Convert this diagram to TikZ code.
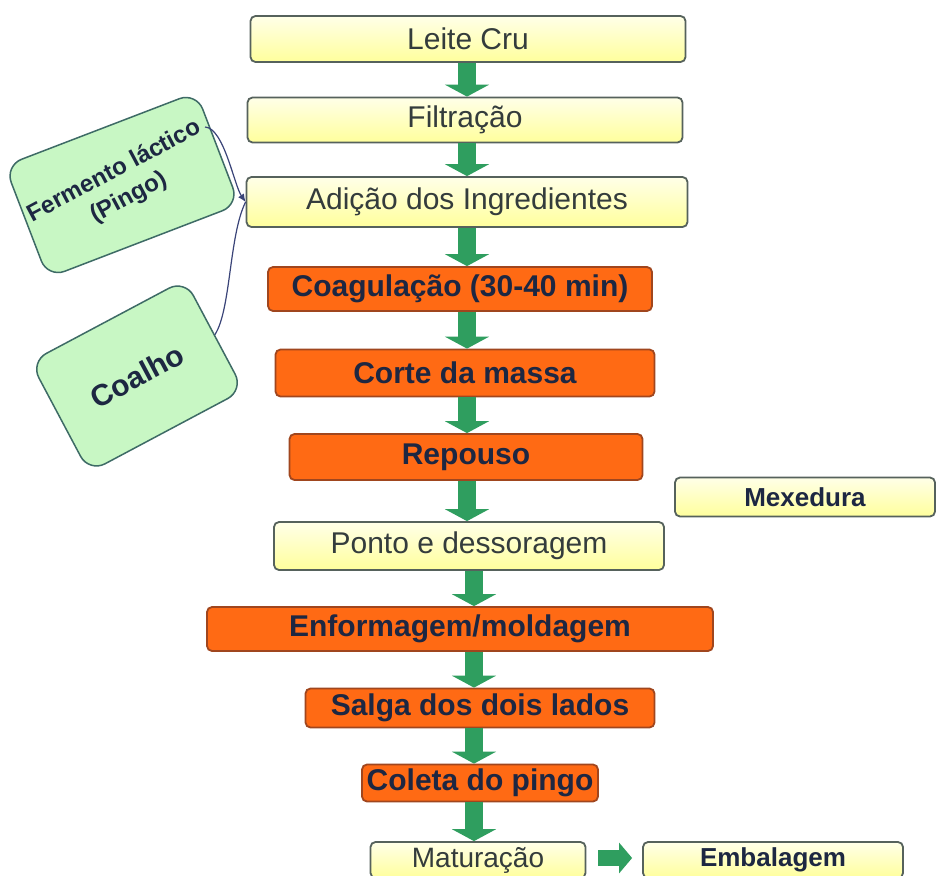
\documentclass[tikz,border=0pt]{standalone}
\usepackage{fontspec}
\setmainfont{Liberation Sans}
\usetikzlibrary{arrows.meta,calc}
\definecolor{ylwtop}{HTML}{FFFFE8}
\definecolor{ylwbot}{HTML}{FFFF9C}
\definecolor{ylwline}{HTML}{56625C}
\definecolor{orfill}{HTML}{FF6A14}
\definecolor{orline}{HTML}{A0461E}
\definecolor{navytxt}{HTML}{1D2742}
\definecolor{graytxt}{HTML}{343C3C}
\definecolor{grfill}{HTML}{C8F7C4}
\definecolor{grline}{HTML}{3E6B66}
\definecolor{arrgreen}{HTML}{2F9E5F}
\definecolor{connblue}{HTML}{3A4478}
\begin{document}
\begin{tikzpicture}[x=1pt,y=-1pt,
  base/.style={rounded corners=5pt, line width=1.8pt, inner sep=0pt, anchor=center},
  ybox/.style={base, draw=ylwline, top color=ylwtop, bottom color=ylwbot, text=graytxt,
    font=\fontsize{30}{32}\selectfont},
  ybold/.style={ybox, text=navytxt, font=\bfseries\fontsize{26}{30}\selectfont},
  obox/.style={base, draw=orline, fill=orfill, text=navytxt,
    font=\bfseries\fontsize{30}{32}\selectfont},
  gbox/.style={rounded corners=18pt, draw=grline, line width=1.5pt, fill=grfill,
    inner sep=0pt, text=navytxt, anchor=center},
  garrow/.style={draw=arrgreen, line width=18pt, -{Triangle[width=44pt,length=12pt]}},
  harrow/.style={draw=arrgreen, line width=16pt, -{Triangle[width=30pt,length=13pt]}},
  conn/.style={draw=connblue, line width=1.2pt},
  conntip/.style={conn, -{Latex[length=8pt,width=7pt]}}
]
\fill[white] (0,0) rectangle (936,875);
\useasboundingbox (0,0) rectangle (936,875);

% main column
\node[ybox, minimum width=435pt, minimum height=46pt] (leite) at (468,39) {Leite Cru};
\node[ybox, minimum width=435pt, minimum height=45pt] (filt) at (465,120) {Filtração};
\node[ybox, minimum width=441pt, minimum height=50pt] (adic) at (467,202) {Adição dos Ingredientes};
\node[obox, minimum width=384pt, minimum height=44pt] (coag) at (460,289) {Coagulação (30-40 min)};
\node[obox, minimum width=379pt, minimum height=47pt] (corte) at (465,373) {Corte da massa};
\node[obox, minimum width=353pt, minimum height=46pt] (repouso) at (466,457) {Repouso};
\node[ybold, minimum width=260pt, minimum height=39pt] (mexe) at (805,497) {Mexedura};
\node[ybox, minimum width=390pt, minimum height=48pt] (ponto) at (469,546) {Ponto e dessoragem};
\node[obox, minimum width=506pt, minimum height=44pt] (enform) at (460,629) {Enformagem/moldagem};
\node[obox, minimum width=349pt, minimum height=39pt] (salga) at (480,708) {Salga dos dois lados};
\node[obox, minimum width=236pt, minimum height=37pt] (coleta) at (480,783) {Coleta do pingo};
\node[ybox, minimum width=215pt, minimum height=36pt,
      font=\fontsize{28}{30}\selectfont] (matur) at (478,860) {Maturação};
\node[ybold, minimum width=260pt, minimum height=36pt] (emba) at (773,860) {Embalagem};

% ingredient boxes
\node[gbox, rotate=21, minimum width=205pt, minimum height=120pt,
      font=\bfseries\fontsize{24}{30}\selectfont] (ferm) at (122,185)
  {\rotatebox{7}{\begin{tabular}{@{}c@{}}Fermento láctico\\(Pingo)\end{tabular}}};
\node[gbox, rotate=28, minimum width=175pt, minimum height=125pt,
      font=\bfseries\fontsize{30}{34}\selectfont] (coalho) at (137,376) {Coalho};

% green flow arrows
\coordinate (xa) at (467,0);
\coordinate (xb) at (474,0);
\draw[garrow] (leite.south -| xa) -- (filt.north -| xa);
\draw[garrow] (filt.south -| xa) -- (adic.north -| xa);
\draw[garrow] (adic.south -| xa) -- (coag.north -| xa);
\draw[garrow] (coag.south -| xa) -- (corte.north -| xa);
\draw[garrow] (corte.south -| xa) -- (repouso.north -| xa);
\draw[garrow] (repouso.south -| xa) -- (ponto.north -| xa);
\draw[garrow] (ponto.south -| xb) -- (enform.north -| xb);
\draw[garrow] (enform.south -| xb) -- (salga.north -| xb);
\draw[garrow] (salga.south -| xb) -- (coleta.north -| xb);
\draw[garrow] (coleta.south -| xb) -- (matur.north -| xb);
\draw[harrow] ([shift={(12,-2)}]matur.east) -- ([shift={(-10,-2)}]emba.west);

% thin connectors
\coordinate (fs) at (205,127);
\draw[conntip] (fs) .. controls (224,128) and (234,185) .. (adic.west);
\draw[conn] (coalho.east) .. controls (231,310) and (229,235) .. (adic.west);
\end{tikzpicture}
\end{document}
